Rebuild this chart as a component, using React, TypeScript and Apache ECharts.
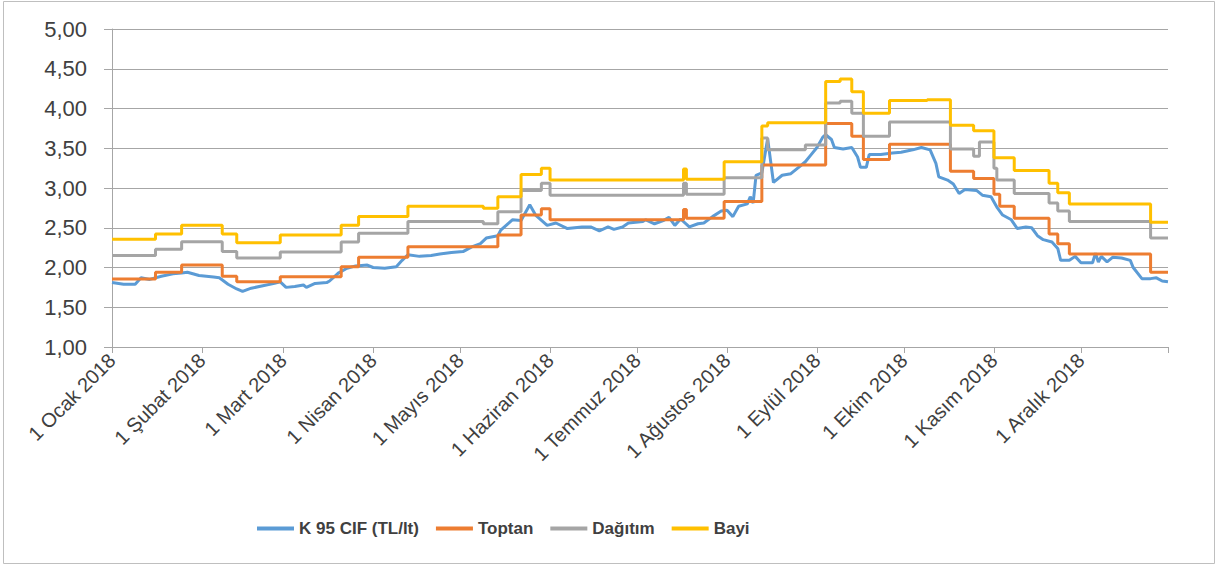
import React, { useEffect, useRef } from 'react';
import * as echarts from 'echarts';

const MONTH_LABELS = [
  '1 Ocak 2018', '1 Şubat 2018', '1 Mart 2018', '1 Nisan 2018', '1 Mayıs 2018', '1 Haziran 2018',
  '1 Temmuz 2018', '1 Ağustos 2018', '1 Eylül 2018', '1 Ekim 2018', '1 Kasım 2018', '1 Aralık 2018',
];
const SERIES_NAMES = ['K 95 CIF (TL/lt)', 'Toptan', 'Dağıtım', 'Bayi'];
const COLORS = ['#5B9BD5', '#ED7D31', '#A5A5A5', '#FFC000'];

const CIF: [string, number][] = [
  ['2018-01-01', 1.81], ['2018-01-05', 1.79], ['2018-01-09', 1.79], ['2018-01-11', 1.87], ['2018-01-14', 1.85],
  ['2018-01-18', 1.89], ['2018-01-22', 1.92], ['2018-01-25', 1.93], ['2018-01-27', 1.94], ['2018-01-31', 1.90],
  ['2018-02-05', 1.88], ['2018-02-07', 1.87], ['2018-02-10', 1.79], ['2018-02-13', 1.73], ['2018-02-15', 1.70],
  ['2018-02-18', 1.74], ['2018-02-22', 1.77], ['2018-02-26', 1.80], ['2018-02-28', 1.82], ['2018-03-02', 1.75],
  ['2018-03-05', 1.76], ['2018-03-08', 1.78], ['2018-03-09', 1.75], ['2018-03-12', 1.80], ['2018-03-16', 1.81],
  ['2018-03-17', 1.83], ['2018-03-20', 1.93], ['2018-03-23', 1.99], ['2018-03-26', 2.02], ['2018-03-30', 2.03],
  ['2018-04-01', 2.00], ['2018-04-05', 1.99], ['2018-04-09', 2.01], ['2018-04-11', 2.09], ['2018-04-13', 2.16],
  ['2018-04-17', 2.14], ['2018-04-21', 2.15], ['2018-04-24', 2.17], ['2018-04-28', 2.19], ['2018-05-02', 2.20],
  ['2018-05-05', 2.26], ['2018-05-08', 2.30], ['2018-05-10', 2.37], ['2018-05-14', 2.40], ['2018-05-15', 2.47],
  ['2018-05-19', 2.60], ['2018-05-22', 2.59], ['2018-05-25', 2.79], ['2018-05-27', 2.66], ['2018-05-31', 2.53],
  ['2018-06-03', 2.56], ['2018-06-07', 2.49], ['2018-06-12', 2.51], ['2018-06-15', 2.51], ['2018-06-18', 2.46],
  ['2018-06-21', 2.51], ['2018-06-23', 2.48], ['2018-06-26', 2.51], ['2018-06-28', 2.56], ['2018-07-03', 2.58],
  ['2018-07-04', 2.60], ['2018-07-07', 2.55], ['2018-07-10', 2.59], ['2018-07-12', 2.63], ['2018-07-14', 2.53],
  ['2018-07-16', 2.61], ['2018-07-19', 2.51], ['2018-07-22', 2.55], ['2018-07-24', 2.56], ['2018-07-27', 2.64],
  ['2018-07-30', 2.71], ['2018-08-01', 2.72], ['2018-08-03', 2.64], ['2018-08-05', 2.77], ['2018-08-08', 2.80],
  ['2018-08-09', 2.89], ['2018-08-10', 2.81], ['2018-08-11', 3.16], ['2018-08-13', 3.19], ['2018-08-15', 3.62],
  ['2018-08-17', 3.07], ['2018-08-20', 3.16], ['2018-08-23', 3.18], ['2018-08-26', 3.27], ['2018-08-28', 3.33],
  ['2018-08-30', 3.42], ['2018-09-01', 3.51], ['2018-09-03', 3.64], ['2018-09-04', 3.67], ['2018-09-06', 3.61],
  ['2018-09-07', 3.51], ['2018-09-10', 3.49], ['2018-09-13', 3.51], ['2018-09-15', 3.39], ['2018-09-16', 3.26],
  ['2018-09-18', 3.26], ['2018-09-19', 3.42], ['2018-09-23', 3.42], ['2018-09-27', 3.44], ['2018-09-30', 3.45],
  ['2018-10-04', 3.48], ['2018-10-07', 3.51], ['2018-10-10', 3.48], ['2018-10-12', 3.31], ['2018-10-13', 3.14],
  ['2018-10-16', 3.10], ['2018-10-18', 3.05], ['2018-10-20', 2.93], ['2018-10-22', 2.98], ['2018-10-26', 2.97],
  ['2018-10-28', 2.91], ['2018-10-31', 2.89], ['2018-11-02', 2.76], ['2018-11-04', 2.66], ['2018-11-07', 2.60],
  ['2018-11-09', 2.49], ['2018-11-12', 2.51], ['2018-11-14', 2.50], ['2018-11-16', 2.40], ['2018-11-18', 2.35],
  ['2018-11-21', 2.32], ['2018-11-23', 2.24], ['2018-11-24', 2.09], ['2018-11-27', 2.09], ['2018-11-29', 2.14],
  ['2018-12-01', 2.06], ['2018-12-05', 2.06], ['2018-12-06', 2.18], ['2018-12-07', 2.07], ['2018-12-08', 2.14],
  ['2018-12-10', 2.07], ['2018-12-12', 2.13], ['2018-12-15', 2.12], ['2018-12-18', 2.09], ['2018-12-19', 2.00],
  ['2018-12-22', 1.86], ['2018-12-25', 1.86], ['2018-12-27', 1.87], ['2018-12-29', 1.83], ['2018-12-31', 1.82],
];

// step series: value valid from the given date until the next one
const TOPTAN: [string, number][] = [
  ['2018-01-01', 1.855], ['2018-01-16', 1.94], ['2018-01-25', 2.03], ['2018-02-08', 1.89], ['2018-02-13', 1.82],
  ['2018-02-28', 1.885], ['2018-03-21', 2.01], ['2018-03-27', 2.13], ['2018-04-13', 2.26], ['2018-05-14', 2.41],
  ['2018-05-22', 2.66], ['2018-05-29', 2.74], ['2018-06-01', 2.60], ['2018-07-17', 2.73], ['2018-07-18', 2.62],
  ['2018-07-31', 2.83], ['2018-08-13', 3.29], ['2018-09-04', 3.81], ['2018-09-13', 3.65], ['2018-09-17', 3.36],
  ['2018-09-26', 3.55], ['2018-10-17', 3.21], ['2018-10-25', 3.12], ['2018-11-01', 2.92], ['2018-11-03', 2.77],
  ['2018-11-08', 2.62], ['2018-11-20', 2.42], ['2018-11-23', 2.30], ['2018-11-27', 2.17], ['2018-12-25', 1.94],
  ['2018-12-31', 1.94],
];

const DAGITIM: [string, number][] = [
  ['2018-01-01', 2.15], ['2018-01-16', 2.23], ['2018-01-25', 2.325], ['2018-02-08', 2.20], ['2018-02-13', 2.12],
  ['2018-02-28', 2.195], ['2018-03-21', 2.32], ['2018-03-27', 2.43], ['2018-04-13', 2.58], ['2018-05-09', 2.55],
  ['2018-05-14', 2.70], ['2018-05-22', 2.97], ['2018-05-29', 3.06], ['2018-06-01', 2.91], ['2018-07-17', 3.06],
  ['2018-07-18', 2.92], ['2018-07-31', 3.13], ['2018-08-13', 3.63], ['2018-08-15', 3.48], ['2018-08-28', 3.54],
  ['2018-09-04', 4.07], ['2018-09-09', 4.09], ['2018-09-13', 3.94], ['2018-09-17', 3.65], ['2018-09-26', 3.83],
  ['2018-10-17', 3.49], ['2018-10-25', 3.40], ['2018-10-27', 3.58], ['2018-11-01', 3.25], ['2018-11-02', 3.10],
  ['2018-11-08', 2.93], ['2018-11-20', 2.81], ['2018-11-23', 2.71], ['2018-11-27', 2.58], ['2018-12-25', 2.37],
  ['2018-12-31', 2.37],
];

const BAYI: [string, number][] = [
  ['2018-01-01', 2.355], ['2018-01-16', 2.42], ['2018-01-25', 2.53], ['2018-02-08', 2.42], ['2018-02-13', 2.31],
  ['2018-02-28', 2.41], ['2018-03-21', 2.53], ['2018-03-27', 2.64], ['2018-04-13', 2.77], ['2018-05-09', 2.745],
  ['2018-05-14', 2.89], ['2018-05-22', 3.17], ['2018-05-29', 3.25], ['2018-06-01', 3.10], ['2018-07-17', 3.24],
  ['2018-07-18', 3.11], ['2018-07-31', 3.33], ['2018-08-13', 3.78], ['2018-08-15', 3.82], ['2018-09-04', 4.34],
  ['2018-09-09', 4.37], ['2018-09-13', 4.21], ['2018-09-17', 3.94], ['2018-09-26', 4.10], ['2018-10-09', 4.11],
  ['2018-10-17', 3.79], ['2018-10-25', 3.72], ['2018-11-01', 3.38], ['2018-11-08', 3.22], ['2018-11-20', 3.06],
  ['2018-11-23', 2.94], ['2018-11-27', 2.80], ['2018-12-25', 2.57], ['2018-12-31', 2.57],
];

const YEAR = 2018;
const DAY_MS = 86400000;

function buildDays(): string[] {
  const out: string[] = [];
  const start = Date.UTC(YEAR, 0, 1);
  const end = Date.UTC(YEAR, 11, 31);
  for (let t = start; t <= end; t += DAY_MS) {
    out.push(new Date(t).toISOString().slice(0, 10));
  }
  return out;
}

const DAYS = buildDays();

function toIndexed(pairs: [string, number][]): [number, number][] {
  return pairs.map(([d, v]) => [DAYS.indexOf(d), v]);
}

const FONT = '"Liberation Sans", Arial, sans-serif';
const TEXT = '#404040';

export default function App() {
  const ref = useRef<HTMLDivElement>(null);
  useEffect(() => {
    document.body.style.margin = '0';
    if (!ref.current) return;
    const chart = echarts.init(ref.current, undefined, { renderer: 'svg' });
    const isMonthStart = (_i: number, v: string) => v.endsWith('-01');
    const series = [CIF, TOPTAN, DAGITIM, BAYI].map((d, i) => ({
      name: SERIES_NAMES[i],
      type: 'line',
      data: toIndexed(d),
      step: i === 0 ? undefined : 'end',
      showSymbol: false,
      symbol: 'none',
      lineStyle: { width: 3, color: COLORS[i] },
      itemStyle: { color: COLORS[i] },
    }));
    chart.setOption({
      animation: false,
      textStyle: { fontFamily: FONT },
      graphic: [
        {
          type: 'rect',
          shape: { x: 3.5, y: 1.5, width: 1211, height: 562 },
          style: { fill: 'none', stroke: '#BFBFBF', lineWidth: 1 },
          silent: true,
        },
      ],
      grid: { left: 112, right: 51, top: 29, bottom: 221, containLabel: false },
      legend: {
        left: 252,
        top: 515,
        itemWidth: 37,
        itemHeight: 4,
        itemGap: 17,
        icon: 'rect',
        data: SERIES_NAMES,
        textStyle: { fontSize: 17, fontWeight: 'bold', color: TEXT, fontFamily: FONT },
      },
      xAxis: {
        type: 'category',
        data: DAYS,
        boundaryGap: false,
        axisLine: { lineStyle: { color: '#A6A6A6', width: 1 } },
        axisTick: {
          show: true,
          interval: (i: number, v: string) => isMonthStart(i, v) || i === DAYS.length - 1,
          length: 6,
          lineStyle: { color: '#A6A6A6' },
        },
        axisLabel: {
          interval: isMonthStart,
          rotate: 45,
          margin: 10,
          fontSize: 20,
          color: TEXT,
          fontFamily: FONT,
          formatter: (v: string) => MONTH_LABELS[parseInt(v.slice(5, 7), 10) - 1],
        },
        splitLine: { show: false },
      },
      yAxis: {
        type: 'value',
        min: 1,
        max: 5,
        interval: 0.5,
        axisLine: { show: true, lineStyle: { color: '#A6A6A6', width: 1 } },
        axisTick: { show: true, length: 8, lineStyle: { color: '#A6A6A6' } },
        axisLabel: {
          margin: 25,
          fontSize: 22,
          color: TEXT,
          fontFamily: FONT,
          formatter: (v: number) => v.toFixed(2).replace('.', ','),
        },
        splitLine: { lineStyle: { color: '#A6A6A6', width: 1 } },
      },
      series,
    });
    return () => chart.dispose();
  }, []);
  return <div ref={ref} style={{ width: 1219, height: 568 }} />;
}
